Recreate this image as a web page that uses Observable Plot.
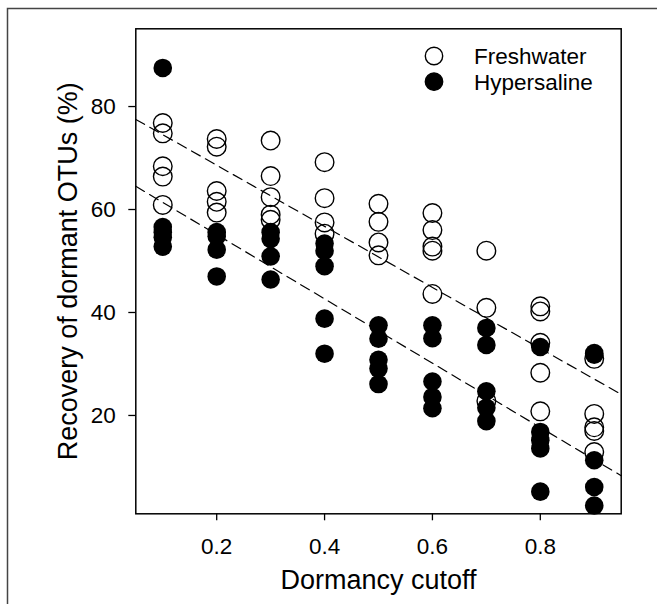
<!DOCTYPE html>
<html>
<head>
<meta charset="utf-8">
<script src="https://cdn.jsdelivr.net/npm/d3@7"></script>
<script src="https://cdn.jsdelivr.net/npm/@observablehq/plot@0.6"></script>
<style>
  body { margin: 0; background: #fff; }
  #chart { width: 657px; height: 604px; overflow: hidden; }
</style>
</head>
<body>
<div id="chart"></div>
<script>
// Dormancy cutoffs (x categories)
const cutoffs = [0.1, 0.2, 0.3, 0.4, 0.5, 0.6, 0.7, 0.8, 0.9];

// Recovery of dormant OTUs (%), per cutoff
const freshwater = [
  [76.8, 74.8, 68.4, 66.4, 60.9],
  [73.7, 72.2, 63.6, 61.5, 59.4],
  [73.4, 66.5, 62.4, 59.0, 58.0],
  [69.2, 62.2, 57.5, 55.3],
  [61.1, 57.6, 53.6, 51.1],
  [59.3, 56.0, 52.8, 52.0, 43.6],
  [52.0, 40.9, 22.8],
  [41.2, 40.2, 34.1, 28.3, 20.8],
  [31.0, 20.3, 17.7, 17.0, 12.9]
];
const hypersaline = [
  [87.5, 56.6, 55.6, 54.6, 52.8],
  [55.6, 54.8, 52.2, 47.0],
  [55.6, 54.3, 50.9, 46.4],
  [53.4, 52.0, 49.0, 38.8, 32.0],
  [37.5, 34.9, 30.8, 29.1, 26.1],
  [37.5, 35.0, 26.6, 23.6, 21.4],
  [37.0, 33.7, 24.7, 21.5, 18.9],
  [33.3, 16.8, 15.2, 13.6, 5.2],
  [32.1, 31.8, 11.3, 6.1, 2.5]
];

// Fitted regression lines (end points)
const fitX = [0.05, 0.95];
const fitFreshwater = [77.5, 24.1];
const fitHypersaline = [64.5, 8.3];

// Axis ticks and labels
const xTicks = [0.2, 0.4, 0.6, 0.8];
const yTicks = [20, 40, 60, 80];
const xTitle = "Dormancy cutoff";
const yTitle = "Recovery of dormant OTUs (%)";
const seriesNames = ["Freshwater", "Hypersaline"];

// Build tables
const toRows = (groups) => groups.flatMap((vals, i) => vals.map(v => ({x: cutoffs[i], y: v})));
const freshRows = toRows(freshwater);
const hyperRows = toRows(hypersaline);
const fitFreshRows = fitX.map((x, i) => ({x, y: fitFreshwater[i]}));
const fitHyperRows = fitX.map((x, i) => ({x, y: fitHypersaline[i]}));

const FONT = "'Liberation Sans', Arial, Helvetica, sans-serif";

const plot = Plot.plot({
  width: 657,
  height: 604,
  marginLeft: 135.3,
  marginRight: 36.3,
  marginTop: 28.3,
  marginBottom: 90.7,
  style: {fontFamily: FONT, background: "white", color: "black", overflow: "visible"},
  x: {domain: [0.05, 0.95]},
  y: {domain: [0.9, 95.1]},
  marks: [
    Plot.axisX(xTicks, {tickSize: 7, tickPadding: 17, fontSize: 22.5, strokeWidth: 1.3, label: null, tickFormat: d => d.toFixed(1)}),
    Plot.axisY(yTicks, {tickSize: 7, tickPadding: 13, fontSize: 22.5, strokeWidth: 1.3, label: null}),
    Plot.dot(freshRows, {x: "x", y: "y", r: 9.3, fill: "none", stroke: "black", strokeWidth: 1.4}),
    Plot.dot(hyperRows, {x: "x", y: "y", r: 9.3, fill: "black", stroke: "none"}),
    Plot.line(fitFreshRows, {x: "x", y: "y", stroke: "black", strokeWidth: 1.2, strokeDasharray: "10,6"}),
    Plot.line(fitHyperRows, {x: "x", y: "y", stroke: "black", strokeWidth: 1.2, strokeDasharray: "10,6"}),
    Plot.frame({stroke: "black", strokeWidth: 1.5}),
    Plot.text([xTitle], {text: d => d, frameAnchor: "bottom", textAnchor: "middle", dy: 75, fontSize: 27, fill: "black"}),
    Plot.text([yTitle], {text: d => d, frameAnchor: "left", textAnchor: "middle", dx: -67, rotate: -90, fontSize: 27, fill: "black"})
  ]
});

const svg = d3.select(plot);

// Outer figure border (top and left)
svg.append("path")
  .attr("d", "M7.5,604V8.5H657")
  .attr("fill", "none")
  .attr("stroke", "#444")
  .attr("stroke-width", 1.5);

// Legend
const legend = svg.append("g")
  .style("font-family", FONT)
  .style("font-size", "22.5px")
  .attr("text-anchor", "start");
seriesNames.forEach((name, i) => {
  const cy = 56 + i * 25.7;
  legend.append("circle")
    .attr("cx", 434).attr("cy", cy).attr("r", 8.7)
    .attr("fill", i === 0 ? "white" : "black")
    .attr("stroke", "black").attr("stroke-width", 1.4);
  legend.append("text")
    .attr("x", 474).attr("y", cy + 7.8)
    .attr("text-anchor", "start")
    .style("font-size", "22.5px")
    .attr("fill", "black")
    .text(name);
});

document.getElementById("chart").appendChild(plot);
</script>
</body>
</html>
